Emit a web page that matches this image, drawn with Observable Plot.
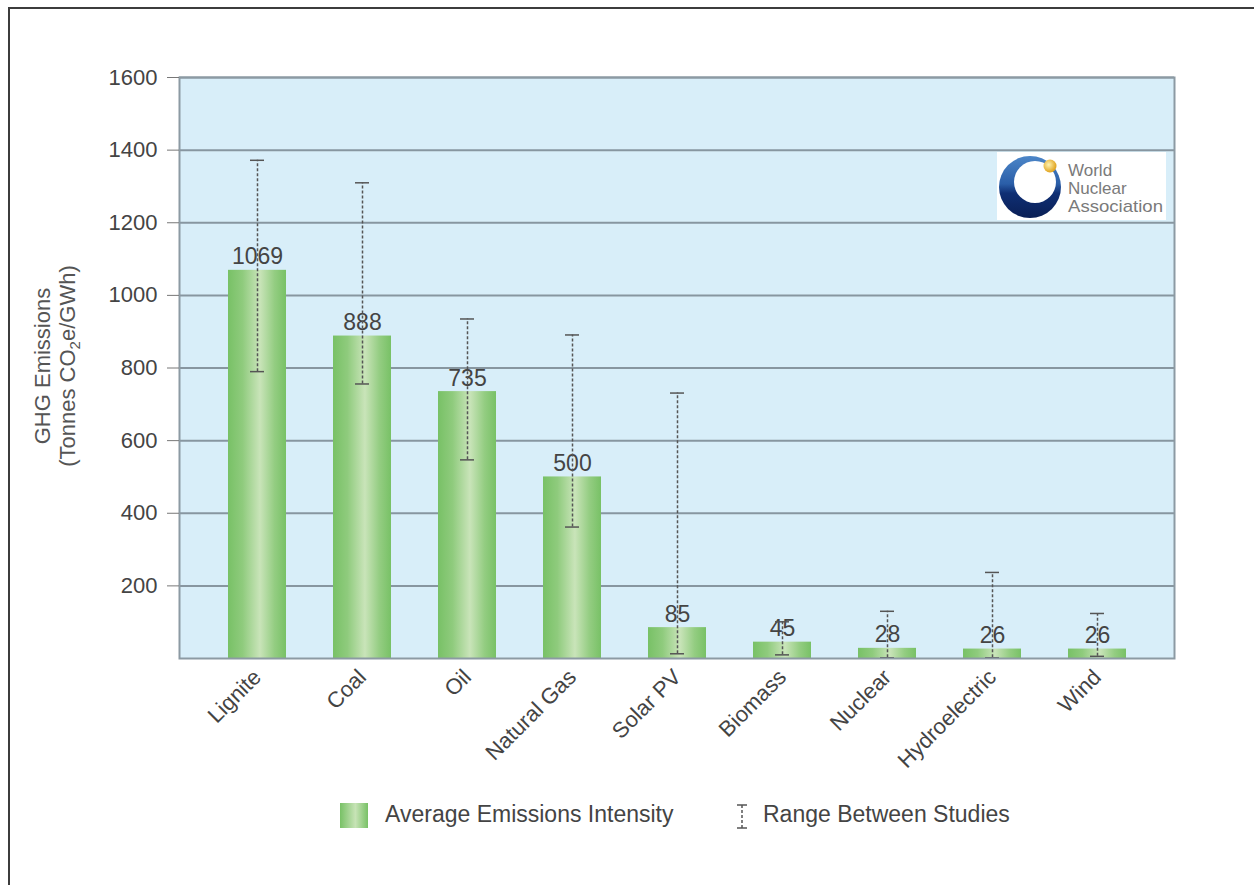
<!DOCTYPE html>
<html>
<head>
<meta charset="utf-8">
<script src="https://cdn.jsdelivr.net/npm/d3@7"></script>
<script src="https://cdn.jsdelivr.net/npm/@observablehq/plot@0.6"></script>
<style>
  body { margin: 0; background: #fff; font-family: "Liberation Sans", Arial, sans-serif; }
  #page { position: relative; width: 1254px; height: 885px; overflow: hidden; background: #fff; }
  #border { position: absolute; left: 8px; top: 7px; width: 1300px; height: 1000px;
            border-left: 2px solid #3c3c3c; border-top: 2px solid #3c3c3c; }
  #chart { position: absolute; left: 0; top: 0; }
  .ytitle { position: absolute; left: 0; top: 0; white-space: nowrap; color: #555;
            font-size: 22px; transform-origin: 0 0; transform: translate(var(--x), 366px) rotate(-90deg) translate(-50%, 0); }
  .ytitle sub { font-size: 15px; vertical-align: -5px; }
  #legend { position: absolute; top: 800px; left: 0; width: 1254px; height: 34px; font-size: 23px; color: #444; }
  .swatch { position: absolute; left: 340px; top: 3px; width: 28px; height: 25px;
            background: linear-gradient(to right, #78c166, #c7e3b6 55%, #78c166); }
  .lg-text { position: absolute; top: 1px; white-space: nowrap; }
  #logo { position: absolute; left: 997px; top: 152px; }
</style>
</head>
<body>
<div id="page">
  <div id="border"></div>
  <div id="chart"></div>
  <div class="ytitle" style="--x: 30px;">GHG Emissions</div>
  <div class="ytitle" style="--x: 55px;">(Tonnes CO<sub>2</sub>e/GWh)</div>
  <svg id="logo" width="170" height="70" viewBox="0 0 170 70">
    <defs>
      <linearGradient id="ringGrad" x1="0" y1="0" x2="0" y2="1">
        <stop offset="0" stop-color="#4c86c8"/>
        <stop offset="0.45" stop-color="#2a5ea8"/>
        <stop offset="0.6" stop-color="#0f2f74"/>
        <stop offset="1" stop-color="#0a1f55"/>
      </linearGradient>
      <radialGradient id="dotGrad" cx="0.4" cy="0.4" r="0.6">
        <stop offset="0" stop-color="#fff3b0"/>
        <stop offset="1" stop-color="#e0a21c"/>
      </radialGradient>
    </defs>
    <rect x="0" y="0" width="169" height="68" fill="#fff"/>
    <circle cx="33" cy="35" r="31" fill="url(#ringGrad)"/>
    <circle cx="38" cy="30" r="21" fill="#fff"/>
    <circle cx="53" cy="14" r="6.5" fill="url(#dotGrad)"/>
    <g font-family="Liberation Sans, Arial, sans-serif" font-size="17" fill="#7a7a7a">
      <text x="71" y="24">World</text>
      <text x="71" y="42">Nuclear</text>
      <text x="71" y="60" textLength="95" lengthAdjust="spacingAndGlyphs">Association</text>
    </g>
  </svg>
  <div id="legend">
    <div class="swatch"></div>
    <div class="lg-text" style="left:385px;">Average Emissions Intensity</div>
    <svg style="position:absolute;left:733px;top:3px;" width="18" height="28">
      <line x1="9" y1="2" x2="9" y2="25" stroke="#555" stroke-width="1.5" stroke-dasharray="3,2"/>
      <line x1="4" y1="2" x2="14" y2="2" stroke="#555" stroke-width="1.5"/>
      <line x1="4" y1="25" x2="14" y2="25" stroke="#555" stroke-width="1.5"/>
    </svg>
    <div class="lg-text" style="left:763px;">Range Between Studies</div>
  </div>
</div>
<script>
// Lifecycle greenhouse-gas emissions by generation source (tonnes CO2e per GWh)
const sources  = ["Lignite", "Coal", "Oil", "Natural Gas", "Solar PV", "Biomass", "Nuclear", "Hydroelectric", "Wind"];
const averages = [1069, 888, 735, 500, 85, 45, 28, 26, 26];
const lows     = [790, 756, 547, 362, 13, 10, 2, 2, 6];
const highs    = [1372, 1310, 935, 891, 731, 101, 130, 237, 124];
const yTicks   = [200, 400, 600, 800, 1000, 1200, 1400, 1600];

const table = sources.map((source, i) => ({
  source, avg: averages[i], low: lows[i], high: highs[i]
}));

const ink = "#444";
const rangeInk = "#555";

const chart = Plot.plot({
  width: 1254,
  height: 790,
  marginTop: 77,
  marginLeft: 179,
  marginRight: 80,
  marginBottom: 132,
  style: { fontFamily: "'Liberation Sans', Arial, sans-serif", background: "transparent" },
  x: { domain: sources, padding: 0.45, label: null },
  y: { domain: [0, 1600], label: null },
  marks: [
    Plot.frame({ fill: "#d8eef9" }),
    Plot.gridY(yTicks, { stroke: "#8796a0", strokeOpacity: 1, strokeWidth: 2 }),
    Plot.barY(table, { x: "source", y: "avg", fill: "url(#barGrad)" }),
    Plot.text(table, {
      x: "source", y: "avg", text: d => String(d.avg),
      lineAnchor: "bottom", dy: -6, fontSize: 23, fill: ink
    }),
    Plot.ruleX(table, {
      x: "source", y1: "low", y2: "high",
      stroke: rangeInk, strokeWidth: 1.5, strokeDasharray: "3,2"
    }),
    Plot.tickY(table, { x: "source", y: "high", stroke: rangeInk, strokeWidth: 1.5, insetLeft: 22, insetRight: 22 }),
    Plot.tickY(table, { x: "source", y: "low", stroke: rangeInk, strokeWidth: 1.5, insetLeft: 22, insetRight: 22 }),
    Plot.frame({ stroke: "#8c9aa3", strokeWidth: 2 }),
    Plot.axisY(yTicks, {
      tickSize: 12, tickPadding: 10, fontSize: 22, fill: ink, stroke: "#777",
      tickFormat: d => String(d), label: null
    }),
    Plot.axisX({
      tickSize: 0, tickPadding: 15, tickRotate: -45, fontSize: 22, fill: ink, label: null
    })
  ]
});

// Horizontal gradient giving the bars their rounded, lit look
const defs = d3.select(chart).insert("defs", ":first-child");
const grad = defs.append("linearGradient").attr("id", "barGrad")
  .attr("x1", 0).attr("y1", 0).attr("x2", 1).attr("y2", 0);
[[0, "#78c166"], [0.25, "#8fcb7d"], [0.55, "#c9e4b9"], [0.8, "#94cd82"], [1, "#78c166"]]
  .forEach(([o, c]) => grad.append("stop").attr("offset", o).attr("stop-color", c));

document.getElementById("chart").appendChild(chart);
</script>
</body>
</html>
